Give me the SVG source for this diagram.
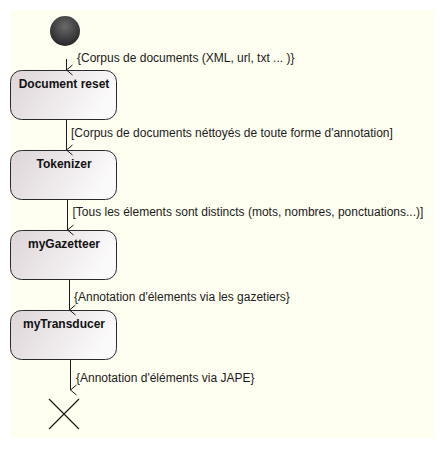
<svg xmlns="http://www.w3.org/2000/svg" width="445" height="450" viewBox="0 0 445 450">
<defs>
<linearGradient id="nodeGrad" x1="0" y1="0" x2="1" y2="0.3">
<stop offset="0" stop-color="#ddd4d8"/>
<stop offset="1" stop-color="#fbfafb"/>
</linearGradient>
<radialGradient id="startGrad" cx="0.5" cy="0.35" r="0.65">
<stop offset="0" stop-color="#6a6a6a"/>
<stop offset="1" stop-color="#262626"/>
</radialGradient>
<marker id="arr" viewBox="0 0 12 10" refX="6" refY="9" markerWidth="12" markerHeight="10" markerUnits="userSpaceOnUse" orient="auto-start-reverse">
<path d="M1,3 L6,9 L11,3" fill="none" stroke="#1a1a1a" stroke-width="1"/>
</marker>
<style>
.node rect { fill: url(#nodeGrad); stroke: #2a2a2a; stroke-width: 1; }
.nlabel { font-family: "Liberation Sans", Arial, sans-serif; font-size: 12px; font-weight: bold; fill: #111; text-anchor: middle; }
.elabel { font-family: "Liberation Sans", Arial, sans-serif; font-size: 12px; fill: #1a1a1a; }
.edge { stroke: #1a1a1a; stroke-width: 1; fill: none; marker-end: url(#arr); }
</style>
</defs>
<rect x="0" y="0" width="445" height="450" fill="#ffffff"/>
<rect x="10" y="10" width="425" height="428" fill="#fffff1"/>

<g id="start">
<circle cx="65" cy="31" r="15" fill="url(#startGrad)"/>
</g>

<g id="document-reset" class="node">
<rect x="10.5" y="70.5" width="106" height="49" rx="11" ry="11"/>
<text class="nlabel" x="64" y="88">Document reset</text>
</g>

<g id="tokenizer" class="node">
<rect x="10.5" y="150.5" width="106" height="49" rx="11" ry="11"/>
<text class="nlabel" x="64" y="168">Tokenizer</text>
</g>

<g id="mygazetteer" class="node">
<rect x="10.5" y="230.5" width="106" height="49" rx="11" ry="11"/>
<text class="nlabel" x="64" y="248">myGazetteer</text>
</g>

<g id="mytransducer" class="node">
<rect x="10.5" y="310.5" width="106" height="49" rx="11" ry="11"/>
<text class="nlabel" x="64" y="328">myTransducer</text>
</g>

<g id="end">
<path d="M49,399 L79,429 M79,399 L49,429" stroke="#1a1a1a" stroke-width="1.2" fill="none"/>
</g>

<g id="connectors">
<line class="edge" x1="66.5" y1="59" x2="66.5" y2="70"/>
<line class="edge" x1="66.5" y1="120" x2="66.5" y2="150"/>
<line class="edge" x1="67.5" y1="200" x2="67.5" y2="230"/>
<line class="edge" x1="69.5" y1="280" x2="69.5" y2="310"/>
<line class="edge" x1="70.5" y1="360" x2="70.5" y2="390"/>
<text class="elabel" x="77" y="62">{Corpus de documents (XML, url, txt ... )}</text>
<text class="elabel" x="71" y="137">[Corpus de documents néttoyés de toute forme d'annotation]</text>
<text class="elabel" x="72.5" y="216">[Tous les élements sont distincts (mots, nombres, ponctuations...)]</text>
<text class="elabel" x="74" y="301">{Annotation d'élements via les gazetiers}</text>
<text class="elabel" x="76" y="382">{Annotation d'éléments via JAPE}</text>
</g>
</svg>
